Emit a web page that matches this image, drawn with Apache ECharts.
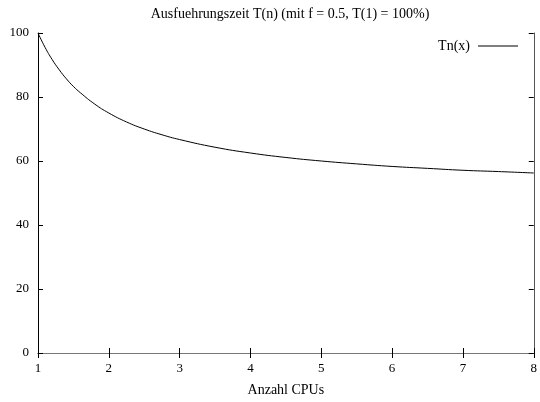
<!DOCTYPE html>
<html>
<head>
<meta charset="utf-8">
<script src="https://cdn.jsdelivr.net/npm/echarts@6.0.0/dist/echarts.min.js"></script>
<style>
  html, body { margin: 0; padding: 0; background: #fff; }
  #chart { width: 540px; height: 402px; }
</style>
</head>
<body>
<div id="chart"></div>
<script>
// Ausfuehrungszeit T(n), values
const cpus = [1, 1.1, 1.2, 1.3, 1.4, 1.5, 1.6, 1.8, 2, 2.25, 2.5, 2.75, 3, 3.5,
              4, 4.5, 5, 5.5, 6, 6.5, 7, 7.5, 8];
const tn   = [100, 95.5, 91.7, 88.5, 85.7, 83.3, 81.3, 77.8, 75, 72.2, 70, 68.2,
              66.7, 64.3, 62.5, 61.1, 60, 59.1, 58.3, 57.7, 57.1, 56.7, 56.25];
const xTicks = [1, 2, 3, 4, 5, 6, 7, 8];
const yTicks = [0, 20, 40, 60, 80, 100];

const FONT = "'Liberation Serif', 'DejaVu Serif', serif";
const INK = "#000";

const tickStyle = { show: true, inside: true, length: 5, lineStyle: { color: INK } };
const chart = echarts.init(document.getElementById("chart"), null, { renderer: "canvas" });

chart.setOption({
  animation: false,
  backgroundColor: "#fff",
  textStyle: { fontFamily: FONT, color: INK },
  title: {
    text: "Ausfuehrungszeit T(n) (mit f = 0.5, T(1) = 100%)",
    left: 285, top: 2, textAlign: "center",
    textStyle: { fontFamily: FONT, fontSize: 14, fontWeight: "normal", color: INK },
  },
  legend: {
    show: true,
    orient: "horizontal",
    right: 17, top: 34,
    align: "right",
    icon: "rect",
    itemWidth: 40, itemHeight: 1,
    itemStyle: { color: INK },
    textStyle: { fontFamily: FONT, fontSize: 14, color: INK, padding: [0, 3, 0, 0] },
    data: ["Tn(x)"],
  },
  grid: { left: 38, right: 4, top: 33, bottom: 49 },
  xAxis: [
    {
      type: "value", min: xTicks[0], max: xTicks[xTicks.length - 1], interval: 1,
      name: "Anzahl CPUs", nameLocation: "middle", nameGap: 30,
      nameTextStyle: { fontFamily: FONT, fontSize: 14, color: INK },
      axisLine: { show: true, lineStyle: { color: "#333" } },
      axisTick: tickStyle,
      axisLabel: { fontFamily: FONT, fontSize: 13, color: INK, margin: 9 },
      splitLine: { show: false },
    },
    {
      type: "value", position: "top", min: xTicks[0], max: xTicks[xTicks.length - 1], interval: 1,
      axisLine: { show: true, lineStyle: { color: "#777" } },
      axisTick: tickStyle,
      axisLabel: { show: false },
      splitLine: { show: false },
    },
  ],
  yAxis: [
    {
      type: "value", min: yTicks[0], max: yTicks[yTicks.length - 1], interval: 20,
      axisLine: { show: true, lineStyle: { color: INK } },
      axisTick: tickStyle,
      axisLabel: { fontFamily: FONT, fontSize: 13, color: INK, margin: 9 },
      splitLine: { show: false },
    },
    {
      type: "value", position: "right", min: yTicks[0], max: yTicks[yTicks.length - 1], interval: 20,
      axisLine: { show: true, lineStyle: { color: "#555" } },
      axisTick: tickStyle,
      axisLabel: { show: false },
      splitLine: { show: false },
    },
  ],
  series: [
    {
      name: "Tn(x)",
      type: "line",
      data: cpus.map((x, i) => [x, tn[i]]),
      smooth: 0.5,
      showSymbol: false,
      lineStyle: { color: INK, width: 1 },
      itemStyle: { color: INK },
    },
  ],
});
</script>
</body>
</html>
